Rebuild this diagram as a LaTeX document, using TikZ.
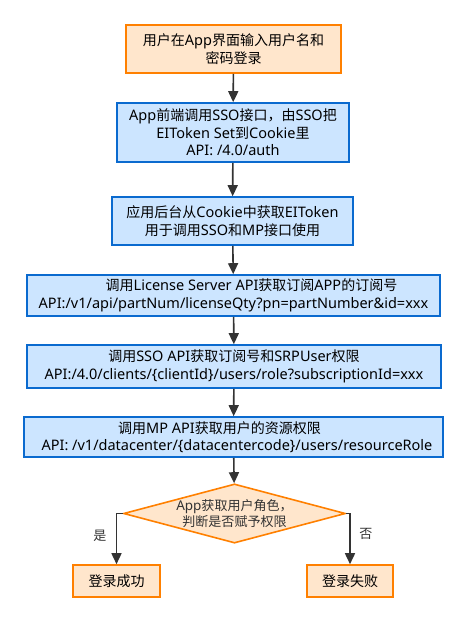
\documentclass[tikz,border=0pt]{standalone}
\usepackage{fontspec}
\setmainfont{Noto Sans}
\newfontfamily\zhfont[Scale=0.9655]{Noto Sans CJK SC}
\newcommand\zhc[1]{{\zhfont #1}}
\usetikzlibrary{shapes.geometric,arrows.meta}
\definecolor{orfill}{HTML}{FFE6CC}
\definecolor{ordraw}{HTML}{FF8000}
\definecolor{blfill}{HTML}{CCE5FF}
\definecolor{bldraw}{HTML}{0A6ACF}
\definecolor{arr}{HTML}{333333}
\tikzset{
  base/.style={draw, line width=1.6pt, align=center, inner sep=0pt,
    font=\fontsize{14.5}{17.5}\selectfont, text=black},
  obox/.style={base, fill=orfill, draw=ordraw},
  bbox/.style={base, fill=blfill, draw=bldraw},
  dia/.style={diamond, aspect=3.75, draw=ordraw, fill=orfill, line width=1.6pt,
    inner sep=0pt, align=center, font=\fontsize{13.5}{16}\selectfont, text=arr},
  flow/.style={draw=arr, line width=1.6pt, -{Triangle[length=11pt,width=10pt]}},
  lab/.style={font=\fontsize{13.5}{15}\selectfont, text=arr}
}
\begin{document}
\begin{tikzpicture}[x=1pt,y=-1pt]
\useasboundingbox[fill=white] (0,0) rectangle (467,623);
\node[obox, minimum width=215pt, minimum height=48pt] (n1) at (233.5,49)
  {\zhc{用户在}App\zhc{界面输入用户名和}\\\zhc{密码登录}};
\node[bbox, minimum width=232pt, minimum height=59pt] (n2) at (233,132.5)
  {App\zhc{前端调用}SSO\zhc{接口，由}SSO\zhc{把}\\EIToken Set\zhc{到}Cookie\zhc{里}\hspace*{36pt}\\API: /4.0/auth};
\node[bbox, minimum width=241pt, minimum height=48pt] (n3) at (232.5,221)
  {\zhc{应用后台从}Cookie\zhc{中获取}EIToken\\\zhc{用于调用}SSO\zhc{和}MP\zhc{接口使用}};
\node[bbox, minimum width=413pt, minimum height=41pt] (n4) at (233.5,295.5)
  {\hspace*{36pt}\zhc{调用}License Server API\zhc{获取订阅}APP\zhc{的订阅号}\\API:/v1/api/partNum/licenseQty?pn=partNumber\&id=xxx};
\node[bbox, minimum width=414pt, minimum height=43pt] (n5) at (234,366.5)
  {\zhc{调用}SSO API\zhc{获取订阅号和}SRPUser\zhc{权限}\\API:/4.0/clients/\{clientId\}/users/role?subscriptionId=xxx};
\node[bbox, minimum width=419pt, minimum height=40pt] (n6) at (233.5,437)
  {\zhc{调用}MP API\zhc{获取用户的资源权限}\hspace*{28pt}\\\hspace*{7pt}API: /v1/datacenter/\{datacentercode\}/users/resourceRole};
\node[dia, minimum width=215pt, minimum height=57pt] (d) at (234.5,513.5)
  {App\zhc{获取用户角色，}\\\zhc{判断是否赋予权限}};
\node[obox, minimum width=87pt, minimum height=32pt] (ok) at (116.5,581)
  {\zhc{登录成功}};
\node[obox, minimum width=86pt, minimum height=32pt] (no) at (350,581)
  {\zhc{登录失败}};
\draw[flow] (n1) -- (n2);
\draw[flow] (n2) -- (n3);
\draw[flow] (n3) -- (n4);
\draw[flow] (n4) -- (n5);
\draw[flow] (n5) -- (n6);
\draw[flow] (n6) -- (d);
\draw[flow] (d.west) -| (ok.north);
\draw[flow] (d.east) -| (no.north);
\node[lab] (yes) at (100,536) {\zhc{是}};
\node[lab] (non) at (366,534) {\zhc{否}};
\end{tikzpicture}
\end{document}
